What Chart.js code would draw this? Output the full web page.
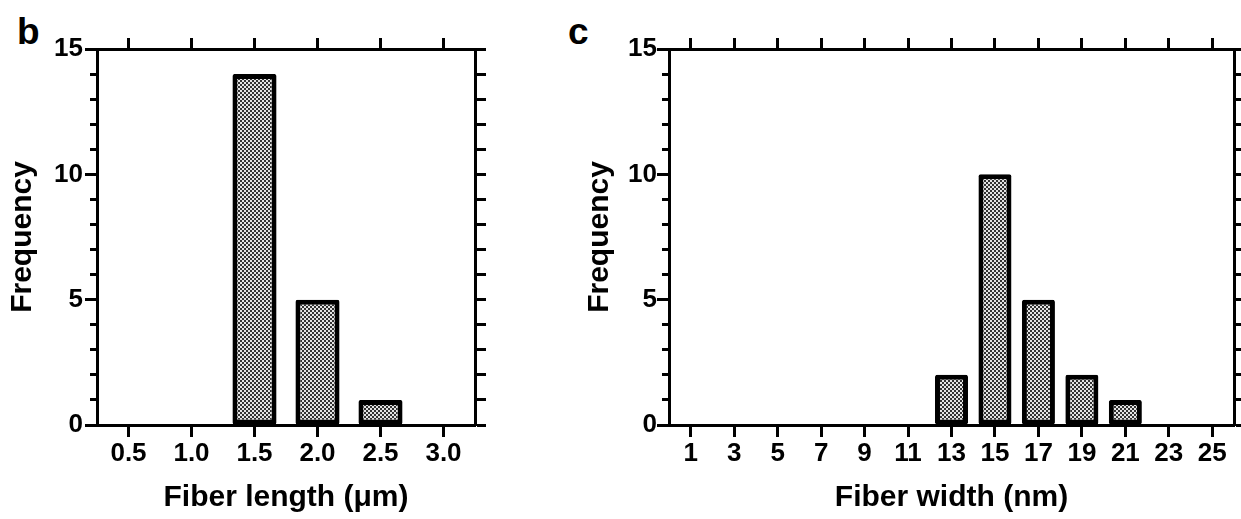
<!DOCTYPE html>
<html>
<head>
<meta charset="utf-8">
<title>Fiber length and width distributions</title>
<script src="https://cdn.jsdelivr.net/npm/chart.js@4.4.1/dist/chart.umd.min.js"></script>
<style>
  body { margin: 0; background: #fff; width: 1241px; height: 519px; position: relative; overflow: hidden; }
  canvas { position: absolute; top: 0; }
  #chartB { left: 0; }
  #chartC { left: 560px; }
  .panel { position: absolute; font: bold 37px "Liberation Sans", Arial, sans-serif; line-height: 37px; color: #000; }
</style>
</head>
<body>
<div class="panel" style="left:17px;top:13px">b</div>
<div class="panel" style="left:568px;top:13px">c</div>
<canvas id="chartB" width="500" height="519"></canvas>
<canvas id="chartC" width="681" height="519"></canvas>
<script>
// histogram bins and counts
const lengthBins = ["0.5", "1.0", "1.5", "2.0", "2.5", "3.0"];
const lengthCounts = [0, 0, 14, 5, 1, 0];

const widthBins = ["1", "3", "5", "7", "9", "11", "13", "15", "17", "19", "21", "23", "25"];
const widthCounts = [0, 0, 0, 0, 0, 0, 2, 10, 5, 2, 1, 0, 0];

const freqMin = 0;
const freqMax = 15;

const FONT = '"Liberation Sans", Arial, sans-serif';

// small checker tile used as the bar fill
function dotPattern(ctx) {
  const tile = document.createElement("canvas");
  tile.width = 4;
  tile.height = 4;
  const g = tile.getContext("2d");
  g.fillStyle = "#e4e4e4";
  g.fillRect(0, 0, 4, 4);
  g.fillStyle = "#333";
  g.fillRect(0, 0, 2, 2);
  g.fillRect(2, 2, 2, 2);
  return ctx.createPattern(tile, "repeat");
}

const tickGrid = (len) => ({
  drawOnChartArea: false,
  drawTicks: true,
  tickLength: len,
  tickWidth: 3,
  tickColor: "#000",
});
const frame = { display: true, color: "#000", width: 3 };

function histogram(id, bins, counts, o) {
  const canvas = document.getElementById(id);
  const ctx = canvas.getContext("2d");
  return new Chart(canvas, {
    type: "bar",
    data: {
      labels: bins,
      datasets: [
        {
          data: counts,
          backgroundColor: dotPattern(ctx),
          borderColor: "#000",
          borderWidth: 5,
          borderSkipped: false,
          borderRadius: 2,
          barPercentage: o.barPct,
          categoryPercentage: 1,
        },
      ],
    },
    options: {
      responsive: false,
      animation: false,
      events: [],
      layout: { padding: 0 },
      plugins: { legend: { display: false }, tooltip: { enabled: false } },
      scales: {
        x: {
          position: "bottom",
          offset: true,
          grid: { ...tickGrid(12), offset: false },
          border: frame,
          ticks: {
            color: "#000",
            font: { family: FONT, size: 26, weight: "bold" },
            padding: 1,
            autoSkip: false,
            maxRotation: 0,
          },
          title: {
            display: true,
            text: o.xTitle,
            color: "#000",
            font: { family: FONT, size: 30, weight: "bold" },
            padding: { top: 0, bottom: 3 },
          },
          afterFit: (s) => { s.height = 94; },
        },
        xTop: {
          type: "category",
          labels: bins,
          position: "top",
          offset: true,
          grid: { ...tickGrid(11), offset: false },
          border: frame,
          ticks: { display: false },
          afterFit: (s) => { s.height = 49; },
        },
        y: {
          position: "left",
          weight: 1,
          min: freqMin,
          max: freqMax,
          grid: tickGrid(12),
          border: frame,
          ticks: {
            stepSize: 5,
            color: "#000",
            font: { family: FONT, size: 26, weight: "bold" },
            padding: o.yTickPad,
          },
          title: {
            display: true,
            text: "Frequency",
            color: "#000",
            font: { family: FONT, size: 30, weight: "bold" },
            padding: { top: o.yTitlePad, bottom: 0 },
          },
          afterFit: (s) => { s.width = o.yWidth; },
        },
        yMinor: {
          position: "left",
          weight: 0,
          min: freqMin,
          max: freqMax,
          grid: tickGrid(7),
          border: { display: false },
          ticks: { stepSize: 1, display: false },
          afterFit: (s) => { s.width = 0; },
        },
        yRight: {
          position: "right",
          min: freqMin,
          max: freqMax,
          grid: tickGrid(11),
          border: frame,
          ticks: { stepSize: 1, display: false },
          afterFit: (s) => { s.width = o.rightWidth; },
        },
      },
    },
  });
}

histogram("chartB", lengthBins, lengthCounts, {
  xTitle: "Fiber length (\u03bcm)",
  barPct: 0.7,
  yWidth: 97,
  yTitlePad: 5,
  yTickPad: 2,
  rightWidth: 25,
});

histogram("chartC", widthBins, widthCounts, {
  xTitle: "Fiber width (nm)",
  barPct: 0.76,
  yWidth: 109,
  yTitlePad: 22,
  yTickPad: 0,
  rightWidth: 7,
});
</script>
</body>
</html>
